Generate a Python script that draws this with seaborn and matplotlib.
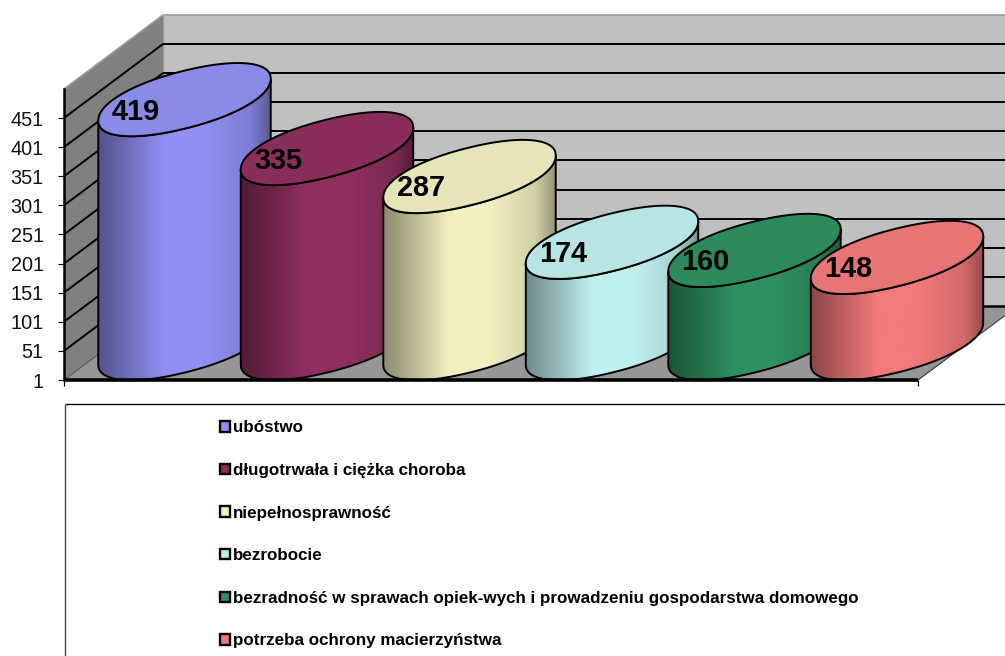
import numpy as np
import seaborn as sns
import matplotlib.pyplot as plt
from matplotlib.patches import Patch, Polygon
from matplotlib.transforms import Affine2D

# chart data
categories = ["ubóstwo", "długotrwała i ciężka choroba", "niepełnosprawność", "bezrobocie",
              "bezradność w sprawach opiek-wych i prowadzeniu gospodarstwa domowego",
              "potrzeba ochrony macierzyństwa"]
values = [419, 335, 287, 174, 160, 148]
colors = ["#9090F2", "#8F2F60", "#F0F0C0", "#C0F0F0", "#2E9060", "#F27A7A"]
yticks = [1, 51, 101, 151, 201, 251, 301, 351, 401, 451]

W, H = 1005, 656
PX_PER_UNIT = 0.5822
SPACING = 142.5

sns.set_style("white")
plt.rcParams['font.family'] = ['Liberation Sans', 'DejaVu Sans']

fig = plt.figure(figsize=(W / 100, H / 100), dpi=100)
ax = fig.add_axes([0, 0, 1, 1])
ax.patch.set_alpha(0)

sns.barplot(x=categories, y=values, hue=categories, palette=colors, dodge=False,
            width=1.21, legend=False, ax=ax)
bars = sorted(ax.patches, key=lambda p: p.get_x())
for b in bars:
    b.set_visible(False)

ax.set_xlim(-184.5 / SPACING, (W - 184.5) / SPACING)
ax.set_ylim(1 - (H - 380) / PX_PER_UNIT, 1 + 380 / PX_PER_UNIT)

# pixel coordinates for the frame of the 3d box
px = Affine2D().scale(1 / W, -1 / H).translate(0, 1) + fig.transFigure


def poly(pts, fc, z=1):
    ax.add_patch(Polygon(pts, closed=True, fc=fc, ec="none", transform=px, zorder=z))


def line(xs, ys, lw=1.4, c="black", z=1.5):
    ax.plot(xs, ys, color=c, lw=lw, transform=px, zorder=z, solid_capstyle="butt", scalex=False, scaley=False)


poly([(163, 15), (W, 15), (W, 306), (163, 306)], "#C0C0C0")
poly([(64, 89), (163, 15), (163, 306), (64, 380)], "#808080")
poly([(64, 380), (163, 306), (1017, 306), (918, 380)], "#969696")
line([163, W], [15, 15], lw=1.2, c="#9a9a9a")
line([64, 163], [89, 15], lw=1.2, c="#9a9a9a")
line([163, 163], [15, 306], lw=0.8, c="#9a9a9a")
line([64, 163], [380, 306], lw=0.8, c="#555555")
line([163, W], [306, 306], lw=1.8)
for k in range(9):
    gy = 44 + 29.11 * k
    line([163, W], [gy, gy])
    line([64, 163], [gy + 74, gy])
line([918, 1005], [380, 306 + 9.5], lw=0.8, c="#333333")
line([64, 918], [380, 380], lw=2.6, z=30)
line([64, 64], [380, 386], lw=0.9, z=30)
line([918, 918], [380, 386], lw=0.9, z=30)

# cylinders
BASE = (380 - 343) / PX_PER_UNIT
RISE = 21 / PX_PER_UNIT
MINOR = 29 / PX_PER_UNIT
ROUND = 0.93
t = np.linspace(0, 2 * np.pi, 361)
lower = np.linspace(np.pi, 2 * np.pi, 181)
ramp_x = [0, 0.08, 0.38, 0.62, 0.88, 1]
ramp_s = [0.58, 0.66, 1, 1, 0.87, 0.62]
shade = np.interp(np.linspace(0, 1, 256), ramp_x, ramp_s)

for i, (b, v, c) in enumerate(zip(bars, values, colors)):
    left, w = b.get_x(), b.get_width()
    cx = left + w / 2
    a = w / 2
    base_y = BASE
    top_y = BASE + b.get_height()
    z = 3 + i

    def rim(tt, y0):
        co = np.sign(np.cos(tt)) * np.abs(np.cos(tt)) ** ROUND
        si = np.sign(np.sin(tt)) * np.abs(np.sin(tt)) ** ROUND
        return np.column_stack([cx + a * co, y0 + MINOR * si + RISE * co])

    body = np.vstack([rim(lower, base_y), rim(lower[::-1], top_y)])
    body_patch = Polygon(body, closed=True, fc="none", ec="black", lw=1.4, zorder=z + 0.2)
    ax.add_patch(body_patch)
    rgb = np.array(plt.matplotlib.colors.to_rgb(c))
    img = (shade[:, None] * rgb)[None, :, :]
    im = ax.imshow(img, extent=(left, left + w, base_y - 2 * MINOR, top_y + 2 * MINOR),
                   aspect="auto", zorder=z + 0.1, interpolation="bilinear")
    im.set_clip_path(body_patch)
    ax.add_patch(Polygon(rim(t, top_y), closed=True, fc=rgb * 0.955, ec="black", lw=1.4, zorder=z + 0.3))
    ax.text(cx - 49 / SPACING, top_y - 12 / PX_PER_UNIT, str(v), ha="center", va="center",
            fontsize=20.8, fontweight="bold", color="black", zorder=z + 0.4)

ax.set_xlim(-184.5 / SPACING, (W - 184.5) / SPACING)
ax.set_ylim(1 - (H - 380) / PX_PER_UNIT, 1 + 380 / PX_PER_UNIT)

# value axis sits on the left edge of the box
sns.despine(ax=ax, left=False, bottom=True)
ax.spines["left"].set_position(("data", (64 - 184.5) / SPACING))
ax.spines["left"].set_bounds(1, 1 + (380 - 89) / PX_PER_UNIT)
ax.spines["left"].set_linewidth(1.8)
ax.spines["left"].set_color("black")
ax.set_xticks([])
ax.set_yticks(yticks)
ax.set_yticklabels([str(y) for y in yticks], fontsize=14.3, color="#111111")
ax.tick_params(axis="y", left=True, length=4.5, width=0.8, pad=10, color="black")
ax.set_xlabel("")
ax.set_ylabel("")

# legend box
line([65, W], [404, 404], lw=1.0)
line([65, 65], [404, H], lw=1.0, c="#444444")
handles = [Patch(fc=c, ec="black", lw=1.7) for c in colors]
ax.legend(handles, categories, loc="upper left", bbox_to_anchor=(217, 417), bbox_transform=px,
          frameon=False, labelcolor="black", labelspacing=1.62, handlelength=0.55, handleheight=0.55,
          handletextpad=0.2, borderpad=0.2, borderaxespad=0, prop={"weight": "bold", "size": 12.27})

fig.savefig("out.png", dpi=100)
